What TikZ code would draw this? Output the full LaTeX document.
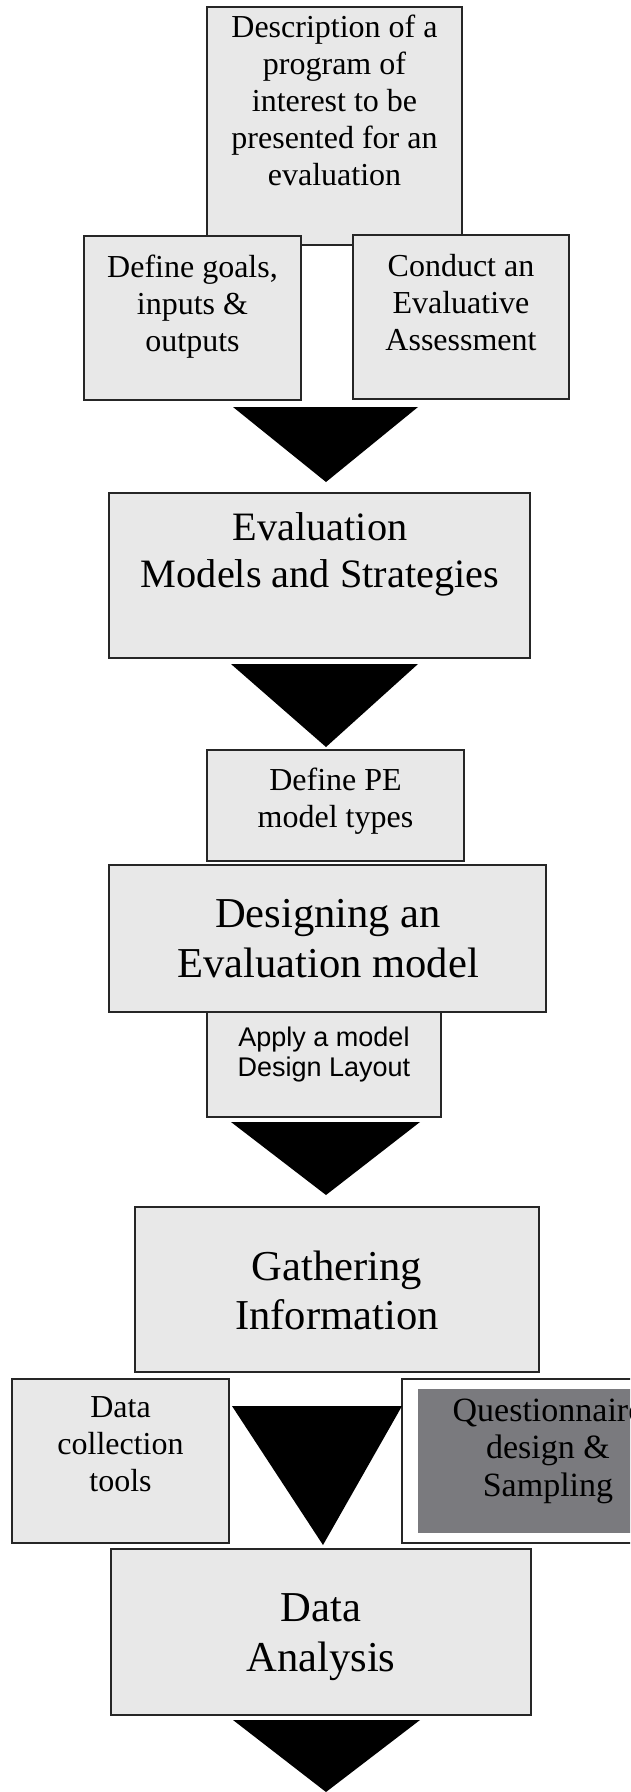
\documentclass[tikz,border=0pt]{standalone}
\usepackage{fontspec}
\setmainfont{Liberation Serif}
\newfontfamily\arialf{Liberation Sans}
\definecolor{boxgray}{RGB}{232,232,232}
\definecolor{darkbox}{RGB}{122,122,126}
\begin{document}
\begin{tikzpicture}[x=1pt,y=-1pt,
  box/.style={draw=black!85, line width=1.4pt, fill=boxgray, inner sep=0pt, outer sep=0pt, anchor=north west},
  txt/.style={anchor=north, inner sep=0pt, outer sep=0pt, align=center, text=black},
  arrowtri/.style={fill=black}]
\useasboundingbox (0,0) rectangle (630,1792);
\clip (0,0) rectangle (630,1792);
\fill[white] (0,0) rectangle (630,1792);

% row 1
\node[box, minimum width=255pt, minimum height=238pt] (desc) at (207,7) {};
\node[box, minimum width=217pt, minimum height=164pt] (defg) at (84,236) {};
\node[box, minimum width=216pt, minimum height=164pt] (cond) at (353,235) {};
\node[txt, font=\fontsize{32}{37}\selectfont] (descT) at (334.5,14.8) {Description of a\\program of\\interest to be\\presented for an\\evaluation};
\node[txt, font=\fontsize{32}{37}\selectfont] (defgT) at (192.5,254.5) {Define goals,\\inputs \&\\outputs};
\node[txt, font=\fontsize{32}{37}\selectfont] (condT) at (461,254.5) {Conduct an\\Evaluative\\Assessment};

% triangle 1
\coordinate (t1a) at (233,407); \coordinate (t1b) at (418,407); \coordinate (t1c) at (326,482);
\fill[arrowtri] (t1a) -- (t1b) -- (t1c) -- cycle;

\node[box, minimum width=421pt, minimum height=165pt] (evalm) at (109,493) {};
\node[txt, font=\fontsize{40.3}{46.5}\selectfont] (evalT) at (320,513) {Evaluation\\Models and Strategies};

% triangle 2
\coordinate (t2a) at (231,664); \coordinate (t2b) at (418,664); \coordinate (t2c) at (326,747);
\fill[arrowtri] (t2a) -- (t2b) -- (t2c) -- cycle;

\node[box, minimum width=257pt, minimum height=111pt] (defpe) at (207,750) {};
\node[txt, font=\fontsize{32}{36.7}\selectfont] (defpeT) at (335.5,768) {Define PE\\model types};

\node[box, minimum width=234pt, minimum height=105pt] (apply) at (207,1012) {};
\node[box, minimum width=437pt, minimum height=147pt] (desig) at (109,865) {};
\node[txt, font=\fontsize{42.6}{50}\selectfont] (desigT) at (328,899) {Designing an\\Evaluation model};
\node[txt, font=\arialf\fontsize{27}{30}\selectfont] (applyT) at (324,1027.4) {Apply a model\\Design Layout};

% triangle 3
\coordinate (t3a) at (231,1122); \coordinate (t3b) at (420,1122); \coordinate (t3c) at (326,1195);
\fill[arrowtri] (t3a) -- (t3b) -- (t3c) -- cycle;

\node[box, minimum width=404pt, minimum height=165pt] (gath) at (135,1207) {};
\node[txt, font=\fontsize{42.6}{48.5}\selectfont] (gathT) at (337,1251) {Gathering\\Information};

\node[box, minimum width=217pt, minimum height=164pt] (dcol) at (12,1379) {};
\node[txt, font=\fontsize{32}{36.8}\selectfont] (dcolT) at (120.5,1396.8) {Data\\collection\\tools};

\node[box, fill=white, minimum width=292pt, minimum height=164pt] (questO) at (402,1379) {};
\node[anchor=north west, fill=darkbox, inner sep=0pt, minimum width=260pt, minimum height=144pt] (questI) at (418,1389) {};
\node[txt, font=\fontsize{34}{37.5}\selectfont] (questT) at (548,1398.5) {Questionnaire\\design \&\\Sampling};

% triangle 4
\coordinate (t4a) at (232,1406); \coordinate (t4b) at (402,1406); \coordinate (t4c) at (323,1545);
\fill[arrowtri] (t4a) -- (t4b) -- (t4c) -- cycle;

\node[box, minimum width=420pt, minimum height=166pt] (dana) at (111,1549) {};
\node[txt, font=\fontsize{42.6}{50}\selectfont] (danaT) at (321,1593.5) {Data\\Analysis};

% triangle 5
\coordinate (t5a) at (233,1720); \coordinate (t5b) at (420,1720); \coordinate (t5c) at (326,1792);
\fill[arrowtri] (t5a) -- (t5b) -- (t5c) -- cycle;
\end{tikzpicture}
\end{document}
